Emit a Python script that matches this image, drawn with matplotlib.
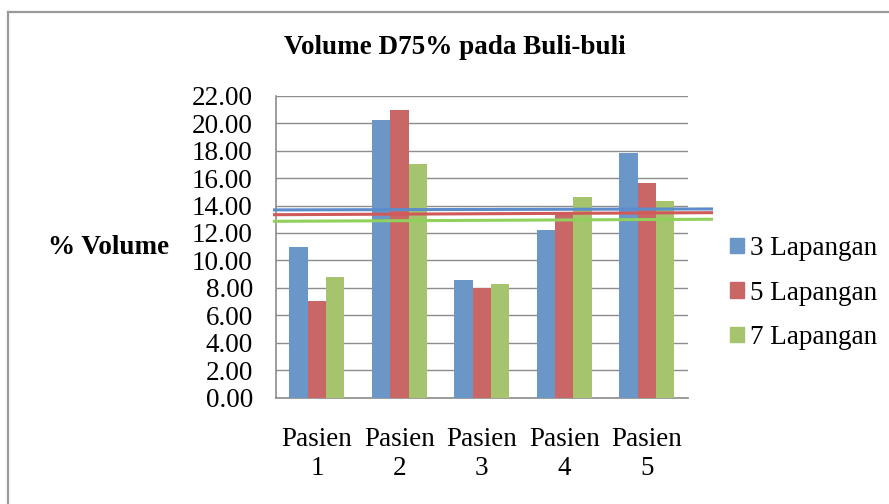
import matplotlib
matplotlib.use("Agg")
import matplotlib.pyplot as plt
from matplotlib.lines import Line2D
import numpy as np

# Data
categories = ["Pasien\n1", "Pasien\n2", "Pasien\n3", "Pasien\n4", "Pasien\n5"]
series_names = ["3 Lapangan", "5 Lapangan", "7 Lapangan"]
vol_3 = [10.95, 20.23, 8.55, 12.19, 17.80]
vol_5 = [7.04, 20.98, 7.96, 13.43, 15.64]
vol_7 = [8.81, 17.05, 8.26, 14.62, 14.33]
# Reference lines per series (value at left end, value at right end)
ref_3 = [13.68, 13.75]
ref_5 = [13.33, 13.48]
ref_7 = [12.85, 13.00]
y_ticks = [0, 2, 4, 6, 8, 10, 12, 14, 16, 18, 20, 22]

colors = ["#6a96c8", "#c96766", "#a6c36e"]
line_colors = ["#5b8ccc", "#d05a5a", "#8fd15a"]

plt.rcParams["font.family"] = ["Liberation Serif", "DejaVu Serif"]

W, H = 889, 504
fig = plt.figure(figsize=(W / 100, H / 100), dpi=100)
fig.patch.set_facecolor("white")

# Chart frame (top and left edges visible)
frame_c = "#9a9a9a"
fig.add_artist(Line2D([8 / W, 1.0], [1 - 12 / H, 1 - 12 / H], transform=fig.transFigure,
                      color=frame_c, lw=1.6))
fig.add_artist(Line2D([8 / W, 8 / W], [0.0, 1 - 12 / H], transform=fig.transFigure,
                      color=frame_c, lw=1.6))

left, right, top, bottom = 275.7, 688.0, 95.7, 397.7
ax = fig.add_axes([left / W, 1 - bottom / H, (right - left) / W, (bottom - top) / H])
ax.set_facecolor("none")

n = len(categories)
x = np.arange(n)
group_w = 2 / 3
bw = group_w / 3
for k, (vals, c, name) in enumerate(zip([vol_3, vol_5, vol_7], colors, series_names)):
    ax.bar(x - group_w / 2 + bw * (k + 0.5), vals, width=bw, color=c, label=name, zorder=3)

ax.set_xlim(-0.5, n - 0.5)
ax.set_ylim(0, 22)
ax.set_yticks(y_ticks)
ax.set_yticklabels([f"{v:.2f}" for v in y_ticks], fontsize=19.5)
ax.yaxis.grid(True, color="#8c8c8c", lw=1.0, zorder=1)
ax.set_axisbelow(True)
ax.tick_params(axis="y", length=0, pad=16.5)
ax.set_xticks(x)
ax.set_xticklabels(categories, fontsize=19.5, linespacing=1.2)
ax.tick_params(axis="x", length=0, pad=21)
for s in ["top", "right"]:
    ax.spines[s].set_visible(False)
for s in ["left", "bottom"]:
    ax.spines[s].set_color("#8c8c8c")
    ax.spines[s].set_linewidth(1.2)

# Reference lines extending slightly past the plot area
x0 = (273 - left) / 82.46 - 0.5
x1 = (713 - left) / 82.46 - 0.5
for ref, c in zip([ref_3, ref_5, ref_7], line_colors):
    ax.plot([x0, x1], ref, color=c, lw=2.2, clip_on=False, zorder=4,
            solid_capstyle="butt")

fig.text(455 / W, 1 - 47 / H, "Volume D75% pada Buli-buli", ha="center", va="center",
         fontsize=19.5, fontweight="bold")
fig.text(109 / W, 1 - 247 / H, "% Volume", ha="center", va="center",
         fontsize=19.5, fontweight="bold")

handles = [plt.Rectangle((0, 0), 1, 1, color=c) for c in colors]
fig.legend(handles, series_names, loc="center left", bbox_to_anchor=(722 / W, 1 - 293 / H),
           frameon=False, fontsize=19.5, handlelength=0.5, handleheight=0.5,
           handletextpad=0.25, labelspacing=0.72, borderaxespad=0, borderpad=0.3)

fig.savefig("out.png", dpi=100)
